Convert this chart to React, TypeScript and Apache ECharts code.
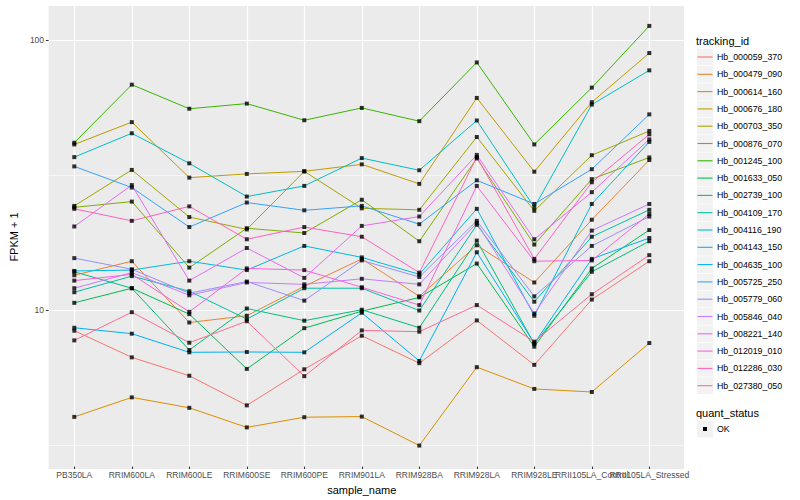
import React, { useEffect, useRef } from "react";
import * as echarts from "echarts";

const categories = [
  "PB350LA", "RRIM600LA", "RRIM600LE", "RRIM600SE", "RRIM600PE", "RRIM901LA",
  "RRIM928BA", "RRIM928LA", "RRIM928LE", "RRII105LA_Control", "RRII105LA_Stressed",
];

const trackingIds = [
  "Hb_000059_370", "Hb_000479_090", "Hb_000614_160", "Hb_000676_180", "Hb_000703_350",
  "Hb_000876_070", "Hb_001245_100", "Hb_001633_050", "Hb_002739_100", "Hb_004109_170",
  "Hb_004116_190", "Hb_004143_150", "Hb_004635_100", "Hb_005725_250", "Hb_005779_060",
  "Hb_005846_040", "Hb_008221_140", "Hb_012019_010", "Hb_012286_030", "Hb_027380_050",
];

const seriesColors = [
  "#F8766D", "#EA8331", "#D89000", "#C09B00", "#A3A500", "#7CAE00", "#39B600",
  "#00BB4E", "#00BF7D", "#00C1A3", "#00BFC4", "#00BAE0", "#00B0F6", "#35A2FF",
  "#9590FF", "#C77CFF", "#E76BF3", "#FA62DB", "#FF62BC", "#FF6C91",
];

// FPKM + 1 values, one array per tracking_id, in category order
const hb000059_370 = [8.27, 6.58, 5.62, 4.36, 5.94, 7.92, 6.26, 9.03, 6.17, 10.8, 15.0];
const hb000479_090 = [13.3, 15.0, 8.87, 9.4, 12.1, 15.3, 11.1, 17.2, 12.5, 21.4, 35.7];
const hb000614_160 = [3.95, 4.67, 4.27, 3.61, 3.94, 3.96, 3.09, 6.05, 5.02, 4.89, 7.44];
const hb000676_180 = [40.8, 49.4, 30.7, 31.7, 32.4, 34.4, 29.1, 60.8, 32.3, 58.6, 89.3];
const hb000703_350 = [24.1, 32.8, 21.9, 19.7, 32.4, 23.6, 23.3, 43.5, 23.1, 37.2, 45.8];
const hb000876_070 = [23.8, 25.0, 14.2, 19.9, 19.1, 25.4, 17.8, 36.2, 17.3, 30.3, 36.5];
const hb001245_100 = [41.4, 68.1, 55.4, 57.9, 50.2, 55.8, 49.8, 82.4, 40.8, 66.4, 112.7];
const hb001633_050 = [10.5, 11.9, 9.53, 5.96, 8.45, 9.77, 11.0, 14.7, 7.21, 14.1, 19.6];
const hb002739_100 = [13.7, 11.9, 7.01, 10.0, 9.01, 9.9, 8.48, 17.9, 7.39, 13.7, 17.8];
const hb004109_170 = [11.5, 13.2, 11.6, 9.13, 11.9, 11.9, 9.83, 20.5, 10.6, 18.5, 23.3];
const hb004116_190 = [36.6, 44.9, 34.7, 26.1, 28.6, 36.3, 32.7, 50.1, 23.8, 57.4, 77.0];
const hb004143_150 = [13.8, 13.9, 15.0, 13.9, 17.1, 15.5, 13.4, 23.5, 9.4, 24.5, 41.7];
const hb004635_100 = [8.48, 8.06, 6.87, 6.89, 6.87, 9.64, 6.38, 16.2, 7.42, 15.3, 18.3];
const hb005725_250 = [33.8, 28.2, 20.1, 24.8, 23.2, 24.1, 20.6, 30.0, 24.5, 33.0, 52.8];
const hb005779_060 = [15.4, 14.0, 11.4, 12.6, 10.7, 15.1, 13.1, 21.2, 11.1, 17.1, 22.0];
const hb005846_040 = [11.9, 13.6, 11.2, 12.5, 12.3, 12.9, 12.3, 20.8, 9.58, 19.5, 24.5];
const hb008221_140 = [20.2, 28.8, 12.7, 16.8, 13.0, 20.3, 22.0, 37.3, 18.1, 27.1, 42.6];
const hb012019_010 = [12.7, 13.4, 9.72, 14.1, 13.9, 12.0, 10.3, 28.6, 15.0, 15.1, 22.5];
const hb012286_030 = [23.5, 21.2, 24.0, 18.1, 20.1, 18.5, 13.6, 36.6, 15.3, 29.5, 44.5];
const hb027380_050 = [7.61, 9.69, 7.46, 8.97, 5.6, 8.29, 8.2, 10.3, 7.53, 11.3, 15.8];

const seriesValues = [
  hb000059_370, hb000479_090, hb000614_160, hb000676_180, hb000703_350,
  hb000876_070, hb001245_100, hb001633_050, hb002739_100, hb004109_170,
  hb004116_190, hb004143_150, hb004635_100, hb005725_250, hb005779_060,
  hb005846_040, hb008221_140, hb012019_010, hb012286_030, hb027380_050,
];

const yTickLabels = [10, 100];
const quantStatus = ["OK"];

const FONT = "'Liberation Sans', Arial, Helvetica, sans-serif";
const Y_MIN = 2.58;
const Y_MAX = 134.8;

function buildOption() {
  const lineSeries = trackingIds.map((name, k) => ({
    name,
    type: "line",
    xAxisIndex: 1,
    yAxisIndex: 2,
    data: seriesValues[k],
    showSymbol: false,
    symbol: "none",
    clip: false,
    color: seriesColors[k],
    lineStyle: { color: seriesColors[k], width: 1 },
    emphasis: { disabled: true },
    z: 2,
  }));

  const points: [number, number][] = [];
  seriesValues.forEach((vals) => vals.forEach((v, i) => points.push([i, v])));

  const scatter = {
    name: quantStatus[0],
    type: "scatter",
    xAxisIndex: 1,
    yAxisIndex: 2,
    data: points,
    symbol: "rect",
    symbolSize: 4,
    clip: false,
    itemStyle: { color: "#000000" },
    emphasis: { disabled: true },
    z: 4,
  };

  const legendGraphics: any[] = [
    {
      type: "text",
      x: 696,
      y: 40.5,
      style: { text: "tracking_id", fill: "#000", fontSize: 11, fontFamily: FONT, align: "left", verticalAlign: "middle" },
    },
  ];
  trackingIds.forEach((name, i) => {
    const cy = 57 + i * 17.3;
    legendGraphics.push(
      { type: "rect", shape: { x: 697, y: cy - 8.3, width: 16, height: 16.6 }, style: { fill: "#F2F2F2" } },
      { type: "line", shape: { x1: 697.5, y1: cy, x2: 712.5, y2: cy }, style: { stroke: seriesColors[i], lineWidth: 1.1 } },
      {
        type: "text",
        x: 717,
        y: cy,
        style: { text: name, fill: "#000", fontSize: 8.8, fontFamily: FONT, align: "left", verticalAlign: "middle" },
      }
    );
  });
  legendGraphics.push(
    {
      type: "text",
      x: 696,
      y: 412.7,
      style: { text: "quant_status", fill: "#000", fontSize: 11, fontFamily: FONT, align: "left", verticalAlign: "middle" },
    },
    { type: "rect", shape: { x: 697, y: 420.7, width: 16, height: 16.6 }, style: { fill: "#F2F2F2" } },
    { type: "rect", shape: { x: 703, y: 427, width: 4, height: 4 }, style: { fill: "#000" } },
    {
      type: "text",
      x: 717,
      y: 429,
      style: { text: quantStatus[0], fill: "#000", fontSize: 8.8, fontFamily: FONT, align: "left", verticalAlign: "middle" },
    }
  );

  return {
    animation: false,
    backgroundColor: "#FFFFFF",
    textStyle: { fontFamily: FONT },
    grid: [
      { left: 40, right: 116, top: 5, bottom: 31, show: true, backgroundColor: "#EBEBEB", borderWidth: 0 },
      { left: 74.3, right: 150.7, top: 5, bottom: 31, show: false },
    ],
    xAxis: [
      { gridIndex: 0, type: "value", min: 0, max: 1, show: false },
      {
        gridIndex: 1,
        type: "category",
        data: categories,
        boundaryGap: false,
        axisLine: { show: false },
        axisTick: { show: true, length: 2.75, lineStyle: { color: "#333333", width: 1 } },
        axisLabel: { interval: 0, hideOverlap: false, color: "#4D4D4D", fontSize: 8.5, margin: 3.5, fontFamily: FONT },
        splitLine: { show: true, lineStyle: { color: "#FFFFFF", width: 1.2 } },
        name: "sample_name",
        nameLocation: "middle",
        nameGap: 13,
        nameTextStyle: { color: "#000", fontSize: 11, fontFamily: FONT },
      },
    ],
    yAxis: [
      {
        gridIndex: 0,
        type: "log",
        logBase: 10,
        min: Y_MIN,
        max: Y_MAX,
        axisLine: { show: false },
        axisTick: { show: true, length: 2.75, lineStyle: { color: "#333333", width: 1 } },
        axisLabel: {
          color: "#4D4D4D",
          fontSize: 8.5,
          margin: 4.5,
          fontFamily: FONT,
          showMinLabel: false,
          showMaxLabel: false,
          formatter: (v: number) => {
            const hit = yTickLabels.find((t) => Math.abs(t - v) / t < 1e-6);
            return hit !== undefined ? String(hit) : "";
          },
        },
        splitLine: { show: true, lineStyle: { color: "#FFFFFF", width: 1.2 } },
        name: "FPKM + 1",
        nameLocation: "middle",
        nameGap: 21,
        nameTextStyle: { color: "#000", fontSize: 11, fontFamily: FONT },
        z: 1,
      },
      {
        gridIndex: 0,
        type: "log",
        logBase: Math.sqrt(10),
        min: Y_MIN,
        max: Y_MAX,
        axisLine: { show: false },
        axisTick: { show: false },
        axisLabel: { show: false },
        splitLine: { show: true, lineStyle: { color: "#FFFFFF", width: 0.6 } },
        z: 0,
      },
      { gridIndex: 1, type: "log", logBase: 10, min: Y_MIN, max: Y_MAX, show: false },
    ],
    series: [...lineSeries, scatter],
    graphic: legendGraphics,
  };
}

export default function App() {
  const ref = useRef<HTMLDivElement>(null);
  useEffect(() => {
    if (!ref.current) return;
    const chart = echarts.init(ref.current, null, { renderer: "svg" });
    chart.setOption(buildOption() as any);
    return () => chart.dispose();
  }, []);
  return (
    <div
      ref={ref}
      style={{ position: "absolute", left: 0, top: 0, width: 800, height: 500 }}
    />
  );
}
